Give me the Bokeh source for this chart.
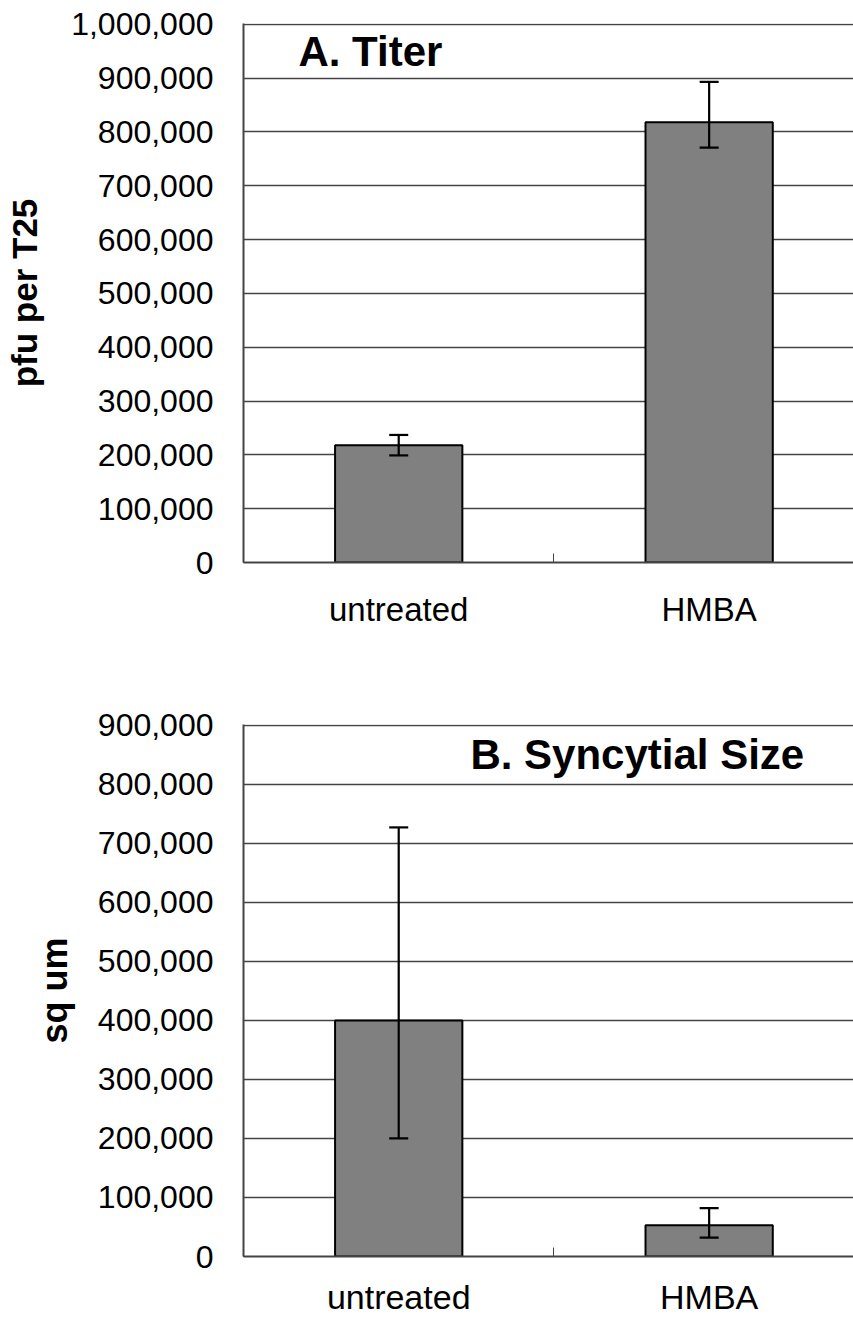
from bokeh.plotting import figure
from bokeh.models import (ColumnDataSource, Range1d, FixedTicker, NumeralTickFormatter,
                          Whisker, Label, TeeHead)
from bokeh.layouts import column
from bokeh.embed import file_html
from bokeh.resources import INLINE

categories = ["untreated", "HMBA"]

titer_mean = [218000, 818000]
titer_lower = [199000, 771000]
titer_upper = [237000, 893000]
titer_ticks = [0, 100000, 200000, 300000, 400000, 500000, 600000, 700000, 800000, 900000, 1000000]

size_mean = [400000, 53000]
size_lower = [200000, 32000]
size_upper = [727000, 82000]
size_ticks = [0, 100000, 200000, 300000, 400000, 500000, 600000, 700000, 800000, 900000]

FONT = "Liberation Sans"
AXIS_COLOR = "#444444"


def make_panel(mean, lower, upper, ticks, title, title_x, title_y, ylabel,
               height, border_top, border_bottom, tick_size, cat_size, cat_standoff,
               ylabel_size, ylabel_standoff):
    xs = [i + 0.5 for i in range(len(categories))]
    src = ColumnDataSource(dict(x=xs, cat=categories, top=mean, lower=lower, upper=upper))
    ymax = ticks[-1]
    p = figure(width=853, height=height, output_backend="svg", toolbar_location=None,
               x_range=Range1d(0, 1.965), y_range=Range1d(0, ymax * 1.0015),
               min_border_left=243, min_border_right=0,
               min_border_top=border_top, min_border_bottom=border_bottom)
    p.outline_line_color = None
    p.background_fill_color = "white"
    p.border_fill_color = "white"

    p.vbar(x="x", top="top", width=0.41, source=src, fill_color="#808080",
           line_color="black", line_width=2)
    w = Whisker(base="x", lower="lower", upper="upper", source=src,
                line_color="black", line_width=2.2, level="annotation",
                upper_head=TeeHead(size=19, line_width=2.2, line_color="black"),
                lower_head=TeeHead(size=19, line_width=2.2, line_color="black"))
    p.add_layout(w)

    # x axis
    p.xaxis.ticker = FixedTicker(ticks=xs, minor_ticks=list(range(len(categories) + 1)))
    p.xaxis.major_label_overrides = {x: c for x, c in zip(xs, categories)}
    p.xaxis.major_tick_line_color = None
    p.xaxis.minor_tick_in = 9
    p.xaxis.minor_tick_out = 0
    p.xaxis.minor_tick_line_color = AXIS_COLOR
    p.xaxis.minor_tick_line_width = 1
    p.xaxis.axis_line_color = AXIS_COLOR
    p.xaxis.axis_line_width = 2
    p.xaxis.major_label_text_font = FONT
    p.xaxis.major_label_text_font_size = cat_size
    p.xaxis.major_label_text_color = "black"
    p.xaxis.major_label_standoff = cat_standoff
    p.xgrid.visible = False

    # y axis
    p.yaxis.ticker = FixedTicker(ticks=ticks)
    p.yaxis.formatter = NumeralTickFormatter(format="0,0")
    p.yaxis.major_tick_in = 8
    p.yaxis.major_tick_out = 0
    p.yaxis.major_tick_line_color = AXIS_COLOR
    p.yaxis.minor_tick_line_color = None
    p.yaxis.axis_line_color = AXIS_COLOR
    p.yaxis.axis_line_width = 2
    p.yaxis.major_label_text_font = FONT
    p.yaxis.major_label_text_font_size = tick_size
    p.yaxis.major_label_text_color = "black"
    p.yaxis.major_label_standoff = 30
    p.yaxis.axis_label = ylabel
    p.yaxis.axis_label_text_font = FONT
    p.yaxis.axis_label_text_font_size = ylabel_size
    p.yaxis.axis_label_text_font_style = "bold"
    p.yaxis.axis_label_text_color = "black"
    p.yaxis.axis_label_standoff = ylabel_standoff
    p.ygrid.ticker = FixedTicker(ticks=ticks)
    p.ygrid.grid_line_color = AXIS_COLOR
    p.ygrid.grid_line_width = 1.3

    p.add_layout(Label(x=title_x, y=title_y, text=title, text_font=FONT,
                       text_font_size="42px", text_font_style="bold",
                       text_color="black", text_baseline="middle", text_align="left"))
    return p


p1 = make_panel(titer_mean, titer_lower, titer_upper, titer_ticks,
                "A. Titer", 0.177, 950000, "pfu per T25",
                height=668, border_top=23, border_bottom=106,
                tick_size="32px", cat_size="33px", cat_standoff=22,
                ylabel_size="35px", ylabel_standoff=24)
p2 = make_panel(size_mean, size_lower, size_upper, size_ticks,
                "B.  Syncytial  Size", 0.731, 851000, "sq um",
                height=655, border_top=56, border_bottom=67,
                tick_size="32px", cat_size="34px", cat_standoff=15,
                ylabel_size="36px", ylabel_standoff=20)

layout = column(p1, p2, spacing=0)
open("out.html", "w").write(file_html(layout, INLINE))
